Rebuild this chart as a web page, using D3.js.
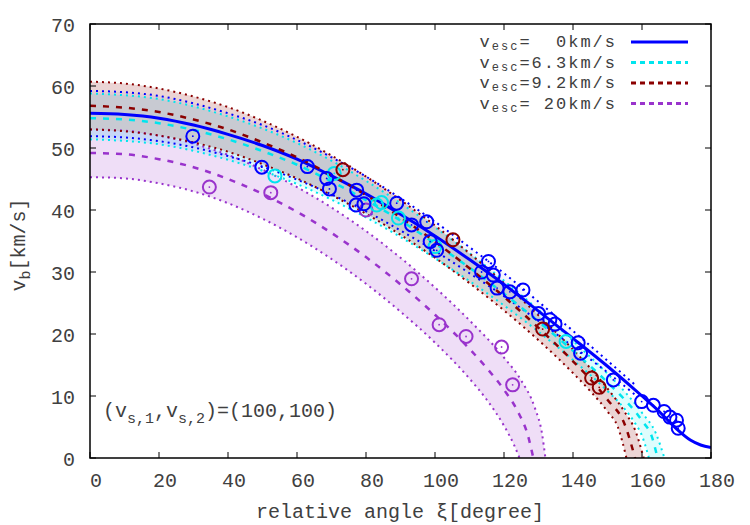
<!DOCTYPE html>
<html><head><meta charset="utf-8">
<script src="https://cdn.jsdelivr.net/npm/d3@7"></script>
<style>
body{margin:0;background:#fff;}
text{font-family:"Liberation Mono",monospace;fill:#404040;white-space:pre;}
</style></head>
<body><svg id="c" width="750" height="525"></svg>
<script>
// ---- data (xi in degree, v_b in km/s) ----
const xTicks=[0,20,40,60,80,100,120,140,160,180];
const yTicks=[0,10,20,30,40,50,60,70];
const legendLabels=["=  0km/s","=6.3km/s","=9.2km/s","= 20km/s"];

const blueCenter=[[0,55.6],[10,55.4],[20,54.8],[30,53.7],[40,52.2],[50,50.4],[60,48.2],[70,45.5],[80,42.6],[90,39.3],[100,35.8],[110,32.0],[120,28.0],[130,23.7],[140,19.3],[150,14.8],[160,10.0],[165,7.5],[170,4.7],[174,2.9],[177,2.1],[180,1.7]];
const blueUpper=[[0,59.2],[10,59.0],[20,58.4],[30,57.2],[40,55.6],[50,53.7],[60,51.3],[70,48.5],[80,45.4],[90,41.9],[100,38.1],[110,34.0],[120,29.8],[130,25.2],[140,20.5],[150,15.7],[158,11.8]];
const blueLower=[[0,51.9],[10,51.7],[20,51.1],[30,50.1],[40,48.7],[50,47.0],[60,44.9],[70,42.5],[80,39.8],[90,36.7],[100,33.4],[110,29.8],[120,26.1],[130,22.1],[140,18.0],[150,13.8],[158,10.2]];

const cyanCenter=[[0,54.8],[10,54.6],[20,54.0],[30,52.9],[40,51.4],[50,49.5],[60,47.3],[70,44.6],[80,41.6],[90,38.3],[100,34.6],[110,30.7],[120,26.5],[130,22.0],[140,17.3],[150,12.2],[155,9.4],[160,6.0],[163,3.2],[164.5,0]];
const cyanUpper=[[0,58.8],[20,57.9],[40,55.1],[60,50.8],[80,44.7],[100,37.2],[120,28.6],[140,18.9],[150,13.6],[155,10.7],[160,7.3],[164,4.0],[166.5,0]];
const cyanLower=[[0,51.4],[20,50.6],[40,48.1],[60,44.2],[80,38.8],[100,32.2],[120,24.6],[140,15.8],[150,10.8],[155,7.9],[158,5.6],[160,3.6],[162,0]];

const redCenter=[[0,56.8],[10,56.5],[20,55.8],[30,54.6],[40,53.0],[50,50.9],[60,48.5],[70,45.6],[80,42.4],[90,38.8],[100,34.9],[110,30.6],[120,26.0],[130,21.0],[140,15.6],[145,12.7],[150,9.4],[155,5.4],[158,0]];
const redUpper=[[0,60.7],[10,60.4],[20,59.6],[30,58.3],[40,56.6],[50,54.4],[60,51.8],[70,48.8],[80,45.4],[90,41.6],[100,37.5],[110,33.0],[120,28.2],[130,23.0],[140,17.5],[145,14.5],[150,11.2],[155,7.4],[158,4.5],[160.5,0]];
const redLower=[[0,53.0],[10,52.7],[20,52.0],[30,50.9],[40,49.4],[50,47.4],[60,45.1],[70,42.4],[80,39.4],[90,36.0],[100,32.3],[110,28.2],[120,23.8],[130,19.0],[140,13.7],[145,10.8],[150,7.5],[153,5.0],[155.5,0]];

const purpleCenter=[[0,49.2],[10,49.0],[20,48.2],[30,46.9],[40,45.0],[50,42.6],[60,39.7],[70,36.3],[80,32.4],[90,28.0],[100,23.1],[110,17.6],[115,14.5],[120,11.0],[124,7.5],[127,3.5],[128.5,0]];
const purpleUpper=[[0,53.0],[10,52.8],[20,52.0],[30,50.7],[40,48.9],[50,46.5],[60,43.7],[70,40.4],[80,36.6],[90,32.3],[100,27.5],[110,22.2],[120,16.2],[125,12.5],[129,8.0],[131,4.0],[132,0]];
const purpleLower=[[0,45.3],[10,45.1],[20,44.3],[30,43.0],[40,41.1],[50,38.6],[60,35.6],[70,32.1],[80,28.1],[90,23.6],[100,18.6],[110,12.8],[115,9.4],[120,5.2],[123,2.0],[124.5,0]];

const bluePoints=[[29.8,51.9],[49.8,46.9],[63,47],[68.6,45.1],[69.4,43.4],[77.3,43.2],[77.1,40.8],[79.4,41.0],[88.9,41.1],[93.2,37.6],[97.6,38.1],[98.6,34.9],[100.5,33.5],[113.5,30.0],[115.5,31.7],[116.9,29.5],[118,27.4],[121.7,26.8],[125.5,27.1],[130,23.3],[133.3,22.3],[134.8,21.6],[141.5,18.6],[142.2,16.9],[151.7,12.6],[159.9,9.1],[163.3,8.5],[166.4,7.5],[168.1,6.6],[170,6.1],[170.5,4.8]];
const cyanPoints=[[53.6,45.5],[70.8,45.9],[83.1,40.8],[84.5,41.2],[89.4,38.7],[100,34.1],[138,18.8]];
const redPoints=[[73.3,46.5],[105.2,35.2],[131.2,20.8],[145.4,12.9],[147.6,11.4]];
const purplePoints=[[34.6,43.7],[52.4,42.8],[80,40.0],[93.2,28.9],[101.2,21.5],[109,19.6],[119.3,17.9],[122.5,11.8]];

// ---- drawing ----
const svg=d3.select("#c");
const L=90,R=711,T=24,B=458;
const x=d3.scaleLinear().domain([0,180]).range([L,R]);
const y=d3.scaleLinear().domain([0,70]).range([B,T]);
const line=d3.line().x(d=>x(d[0])).y(d=>y(d[1])).curve(d3.curveMonotoneX);

const series=[
 {c:"#9933cc",fill:"rgba(153,51,204,0.16)",center:purpleCenter,up:purpleUpper,lo:purpleLower,pts:purplePoints},
 {c:"#00e5ee",fill:"rgba(0,238,238,0.13)",center:cyanCenter,up:cyanUpper,lo:cyanLower,pts:cyanPoints},
 {c:"#0000ff",fill:"rgba(0,0,255,0.04)",center:blueCenter,up:blueUpper,lo:blueLower,pts:bluePoints,solid:true},
 {c:"#8b0000",fill:"rgba(139,0,0,0.17)",center:redCenter,up:redUpper,lo:redLower,pts:redPoints}
];
svg.append("clipPath").attr("id","pc").append("rect").attr("x",L).attr("y",T).attr("width",R-L).attr("height",B-T);
const g=svg.append("g").attr("clip-path","url(#pc)");
series.forEach(s=>{
  const d=line(s.up)+"L"+line(s.lo.slice().reverse()).slice(1)+"Z";
  g.append("path").attr("d",d).attr("fill",s.fill).attr("stroke","none");
});
series.forEach(s=>{
  [s.up,s.lo].forEach(b=>g.append("path").attr("d",line(b)).attr("fill","none")
    .attr("stroke",s.c).attr("stroke-width",2).attr("stroke-dasharray","2,4"));
});
series.forEach(s=>{
  g.append("path").attr("d",line(s.center)).attr("fill","none").attr("stroke",s.c)
   .attr("stroke-width",s.solid?3:2.5).attr("stroke-dasharray",s.solid?null:"6,7");
});
series.forEach(s=>{
  s.pts.forEach(p=>{
    g.append("circle").attr("cx",x(p[0])).attr("cy",y(p[1])).attr("r",6.5)
      .attr("fill","none").attr("stroke",s.c).attr("stroke-width",2);
    g.append("circle").attr("cx",x(p[0])).attr("cy",y(p[1])).attr("r",0.9).attr("fill",s.c);
  });
});

// axes / frame
svg.append("rect").attr("x",L).attr("y",T).attr("width",R-L).attr("height",B-T)
  .attr("fill","none").attr("stroke","#000").attr("stroke-width",1.5);
const ax=svg.append("g");
xTicks.forEach(t=>{
  ax.append("line").attr("x1",x(t)).attr("x2",x(t)).attr("y1",B).attr("y2",B-6).attr("stroke","#000");
  ax.append("line").attr("x1",x(t)).attr("x2",x(t)).attr("y1",T).attr("y2",T+6).attr("stroke","#000");
  ax.append("text").attr("x",x(t)+6).attr("y",B+29).attr("text-anchor","middle").attr("font-size",20).text(t);
});
yTicks.forEach(t=>{
  ax.append("line").attr("x1",L).attr("x2",L+6).attr("y1",y(t)).attr("y2",y(t)).attr("stroke","#000");
  ax.append("line").attr("x1",R).attr("x2",R-6).attr("y1",y(t)).attr("y2",y(t)).attr("stroke","#000");
  ax.append("text").attr("x",75).attr("y",y(t)+8).attr("text-anchor","end").attr("font-size",20).text(t);
});

// axis titles
svg.append("text").attr("x",400).attr("y",518).attr("text-anchor","middle").attr("font-size",20).text("relative angle ξ[degree]");
const yl=svg.append("text").attr("transform","translate(25,245) rotate(-90)").attr("text-anchor","middle").attr("font-size",20);
yl.append("tspan").text("v");
yl.append("tspan").attr("font-size",15).attr("dy",5).text("b");
yl.append("tspan").attr("dy",-5).text("[km/s]");

// annotation
const an=svg.append("text").attr("x",103).attr("y",417).attr("font-size",20);
an.append("tspan").text("(v");
an.append("tspan").attr("font-size",15).attr("dy",6).text("s,1");
an.append("tspan").attr("dy",-6).text(",v");
an.append("tspan").attr("font-size",15).attr("dy",6).text("s,2");
an.append("tspan").attr("dy",-6).text(")=(100,100)");

// legend
const order=[series[2],series[1],series[3],series[0]];
order.forEach((s,i)=>{
  const yy=42+i*20.5;
  const t=svg.append("text").attr("x",617).attr("y",yy+5).attr("text-anchor","end").attr("font-size",17).attr("letter-spacing",2);
  t.append("tspan").text("v");
  t.append("tspan").attr("font-size",12).attr("dy",3).text("esc");
  t.append("tspan").attr("dy",-3).text(legendLabels[i]);
  svg.append("line").attr("x1",631).attr("x2",688).attr("y1",yy).attr("y2",yy).attr("stroke",s.c)
    .attr("stroke-width",3).attr("stroke-dasharray",s.solid?null:"5,4");
});
</script></body></html>
